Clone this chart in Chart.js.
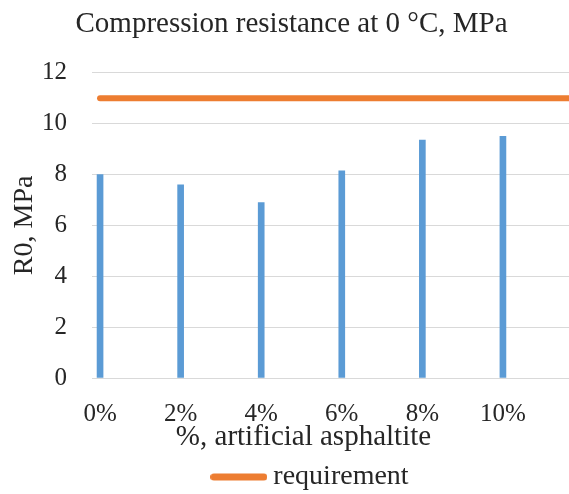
<!DOCTYPE html>
<html>
<head>
<meta charset="utf-8">
<script src="https://cdn.jsdelivr.net/npm/chart.js@4"></script>
<style>
  html, body { margin: 0; padding: 0; background: #fff; overflow: hidden; }
  #chart { display: block; }
</style>
</head>
<body>
<canvas id="chart" width="569" height="494"></canvas>
<script>
  const categories = ['0%', '2%', '4%', '6%', '8%', '10%', '12%'];
  const resistance = [8.0, 7.6, 6.9, 8.15, 9.35, 9.5];
  const requirement = [11, 11, 11, 11, 11, 11, 11];
  const yTicks = [0, 2, 4, 6, 8, 10, 12];

  const serif = "'Liberation Serif', 'Times New Roman', serif";
  const textColor = '#262626';
  const orange = '#ed7d31';
  const titleText = 'Compression resistance at 0 °C, MPa';
  const xTitleText = '%, artificial asphaltite';

  // legend swatch: a thick orange stroke with round ends
  const legendLine = document.createElement('canvas');
  legendLine.width = 57;
  legendLine.height = 8;
  (() => {
    const c = legendLine.getContext('2d');
    c.strokeStyle = orange;
    c.lineWidth = 7;
    c.lineCap = 'round';
    c.beginPath();
    c.moveTo(3.5, 4);
    c.lineTo(53.5, 4);
    c.stroke();
  })();

  // horizontal/vertical nudges for the boxes that sit off-centre in the picture
  const boxShift = (chart) => {
    chart.boxes.forEach((box) => {
      let dx = 0;
      let dy = 0;
      if (box === chart.legend) { dx = 29; dy = 7; }
      else if (box.options && box.options.text === titleText) dx = 7;
      else if (box.options && box.options.text === xTitleText) dx = 19;
      if (dx || dy) {
        box.left += dx;
        box.right += dx;
        box.top += dy;
        box.bottom += dy;
      }
    });
  };

  Chart.defaults.font.family = serif;
  Chart.defaults.color = textColor;

  new Chart(document.getElementById('chart'), {
    data: {
      datasets: [
        {
          type: 'bar',
          label: 'R0',
          data: resistance.map((v, i) => ({ x: i, y: v })),
          backgroundColor: '#5b9bd5',
          barThickness: 6,
          order: 2
        },
        {
          type: 'line',
          label: 'requirement',
          data: requirement.map((v, i) => ({ x: i, y: v })),
          borderColor: orange,
          backgroundColor: orange,
          borderWidth: 6,
          borderCapStyle: 'round',
          pointRadius: 0,
          pointStyle: legendLine,
          order: 1
        }
      ]
    },
    options: {
      responsive: false,
      animation: false,
      layout: { padding: 0 },
      scales: {
        x: {
          type: 'linear',
          offset: false,
          min: -0.1,
          max: 5.82,
          grid: { display: false, drawTicks: false },
          border: { display: false },
          afterBuildTicks: (scale) => {
            scale.ticks = resistance.map((_, i) => ({ value: i }));
          },
          afterFit: (scale) => {
            scale.height = 45;
          },
          ticks: {
            padding: 24,
            maxRotation: 0,
            font: { size: 25, lineHeight: 1 },
            color: textColor,
            callback: (value) => categories[Math.round(value)]
          }
        },
        y: {
          min: 0,
          max: 12,
          afterBuildTicks: (scale) => {
            scale.ticks = yTicks.map((v) => ({ value: v }));
          },
          afterFit: (scale) => {
            scale.width = 92;
          },
          grid: { color: '#d9d9d9', lineWidth: 1, drawTicks: false },
          border: { display: false },
          ticks: {
            padding: 25,
            font: { size: 25 },
            color: textColor
          },
          title: {
            display: true,
            text: 'R0, MPa',
            font: { size: 28 },
            color: textColor,
            padding: { top: 8, bottom: 0 }
          }
        }
      },
      plugins: {
        title: {
          display: true,
          text: titleText,
          font: { size: 29, weight: 'normal', lineHeight: 1.2 },
          color: textColor,
          padding: { top: 7, bottom: 31 }
        },
        subtitle: {
          display: true,
          position: 'bottom',
          weight: 500,
          text: xTitleText,
          font: { size: 29, lineHeight: 1 },
          color: textColor,
          padding: { top: 0, bottom: 4 }
        },
        legend: {
          position: 'bottom',
          labels: {
            usePointStyle: true,
            pointStyleWidth: 41,
            padding: 0,
            font: { size: 28 },
            color: textColor,
            filter: (item) => item.text === 'requirement'
          }
        },
        tooltip: { enabled: false }
      }
    },
    plugins: [{ id: 'boxShift', afterLayout: boxShift }]
  });
</script>
</body>
</html>
